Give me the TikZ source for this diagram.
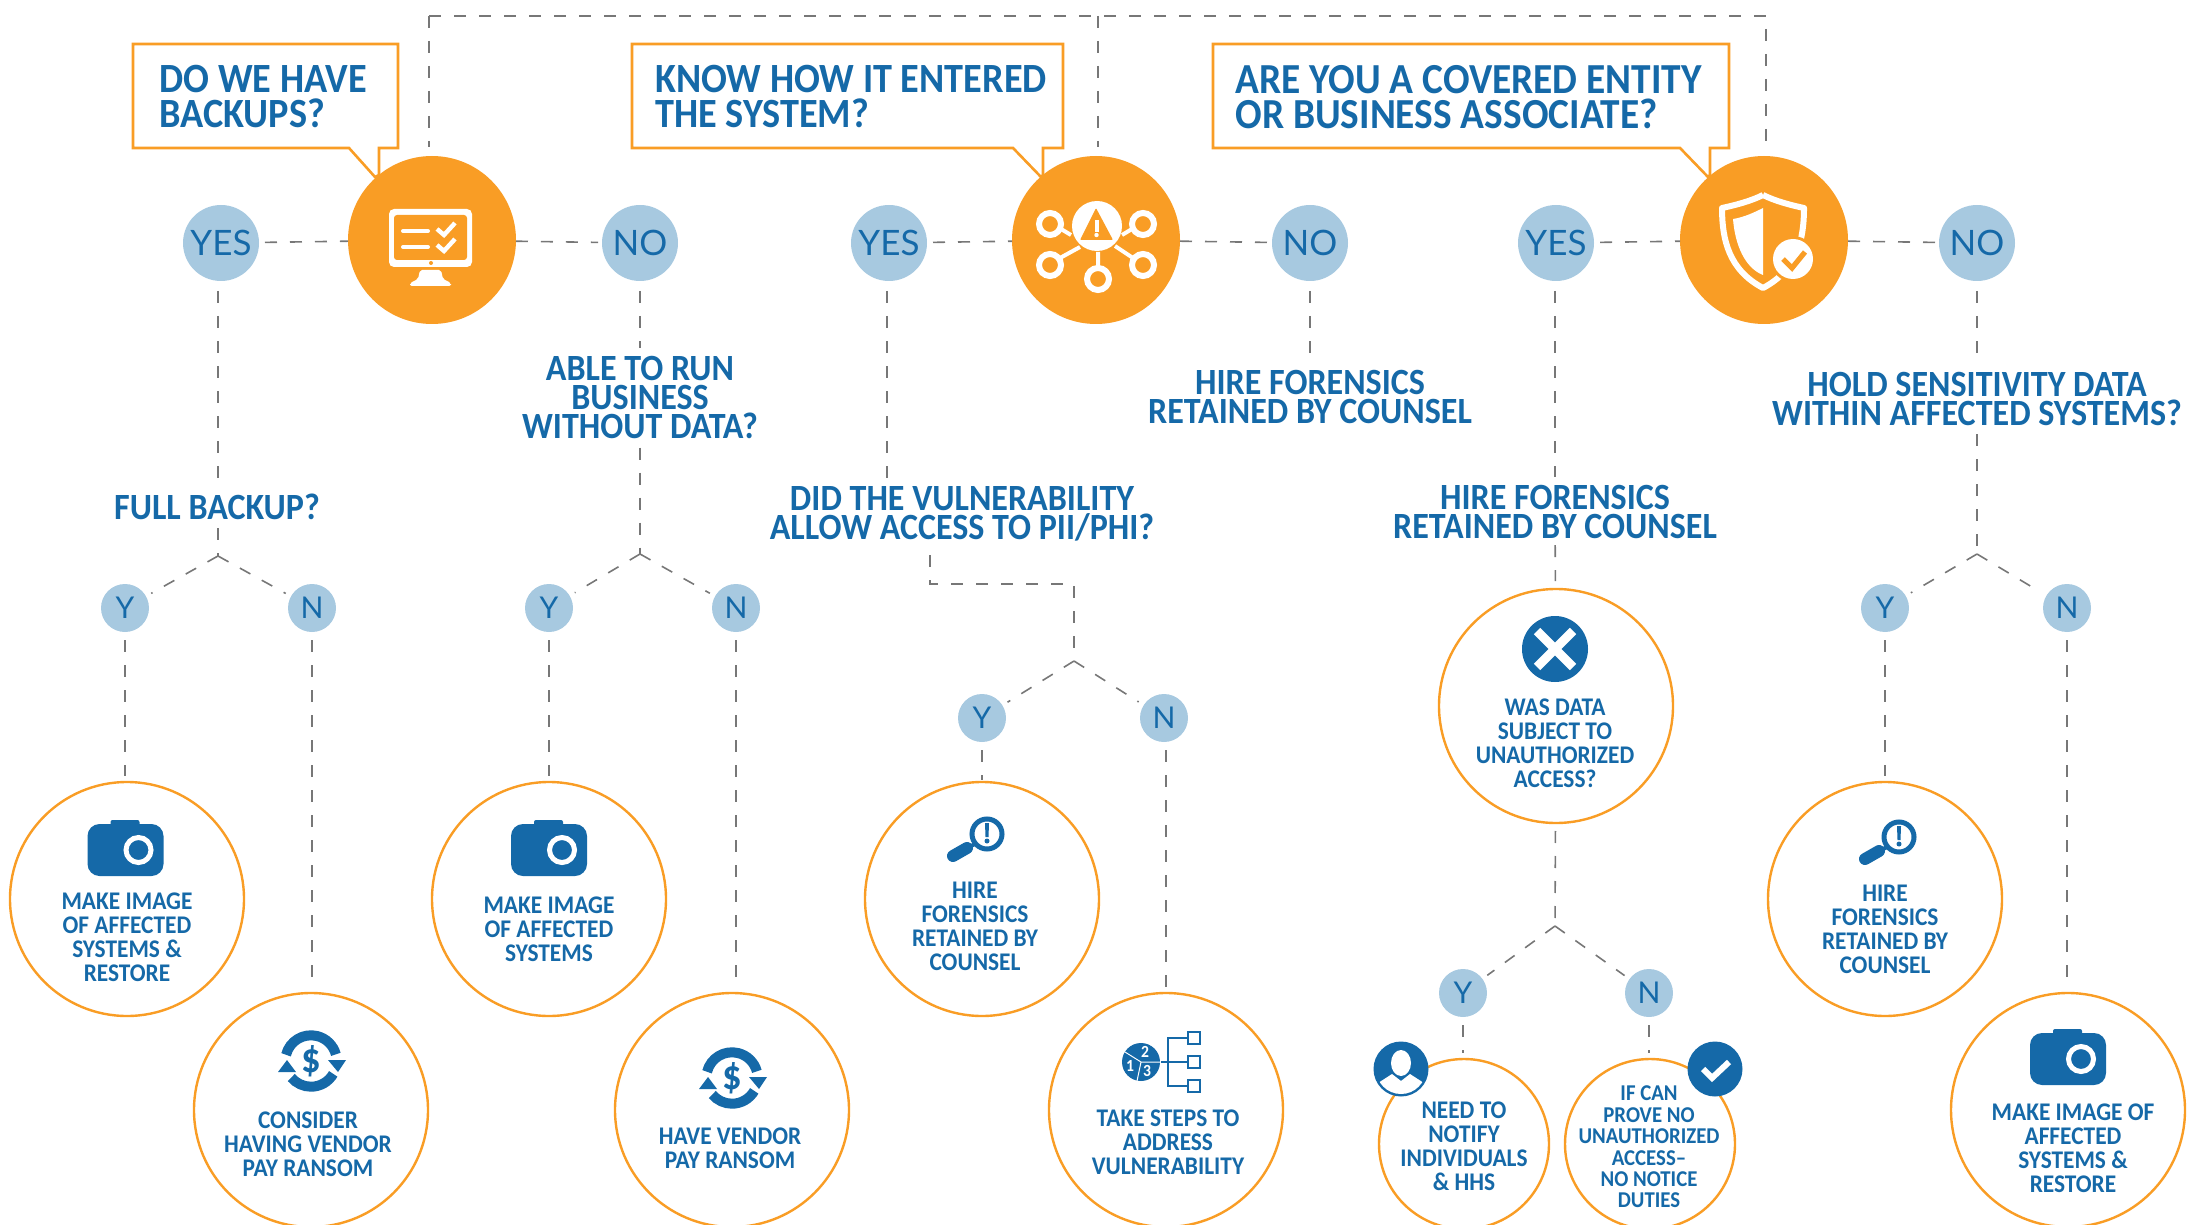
\documentclass[tikz,border=0pt]{standalone}
\usepackage{fontspec}
\setmainfont{Carlito}[FakeStretch=0.92]
\newfontfamily\plainfont{Lato}
\usetikzlibrary{calc}
\definecolor{orangemain}{HTML}{F99D25}
\definecolor{bluemain}{HTML}{1569A8}
\definecolor{bluelight}{HTML}{A7C9E0}
\definecolor{linegray}{HTML}{777777}

\newcommand{\iconcamera}[1]{\begin{scope}[shift={(#1)}]
  \fill[bluemain,rounded corners=6pt] (-38,-26) rectangle (38,26);
  \fill[bluemain,rounded corners=1pt] (-15,-30) rectangle (14,-20);
  \draw[white,line width=2.5pt,fill=bluemain] (13,0) circle (12.5);
\end{scope}}
\newcommand{\iconglass}[1]{\begin{scope}[shift={(#1)}]
  \draw[bluemain,line width=2.5pt] (13,-7) circle (15);
  \draw[bluemain,line width=6pt,line cap=round] (-21,15) -- (-7,7);
  \draw[bluemain,line width=2pt] (-7,7) -- (3,2);
  \fill[bluemain] (11,-18) -- (15,-18) -- (14.5,-4) -- (11.5,-4) -- cycle;
  \fill[bluemain] (13,0) circle (2.5);
\end{scope}}
\newcommand{\icondollar}[1]{\begin{scope}[shift={(#1)}]
  \draw[bluemain,line width=5pt] (194:25.7) arc (194:345:25.7);
  \draw[bluemain,line width=5pt] (30:25.7) arc (30:140:25.7);
  \fill[bluemain] (17,-1) -- (35,-1) -- (27,11) -- cycle;
  \fill[bluemain] (-33,11) -- (-15,11) -- (-24,-1) -- cycle;
  \node[inner sep=0pt,text=bluemain,font=\fontsize{21}{21}\selectfont\bfseries] at (0,0) {\$};
\end{scope}}
\newcommand{\iconsteps}[1]{\begin{scope}[shift={(#1)}]
  \fill[bluemain] (0,0) circle (19);
  \draw[white,line width=0.5pt] (0,0) -- (19,0) (0,0) -- (-16,-10) (0,0) -- (-4,19);
  \node[inner sep=0pt,text=white,font=\fontsize{8.5}{8.5}\selectfont\bfseries] at (4,-10) {2};
  \node[inner sep=0pt,text=white,font=\fontsize{8.5}{8.5}\selectfont\bfseries] at (-11,4) {1};
  \node[inner sep=0pt,text=white,font=\fontsize{8.5}{8.5}\selectfont\bfseries] at (6,9) {3};
  \draw[bluemain,line width=1.3pt] (20,0) -- (46,0) (27,-24) -- (46,-24) (27,24) -- (46,24) (27,-25) -- (27,25);
  \draw[bluemain,line width=0.9pt,fill=white] (47,-30) rectangle (59,-18);
  \draw[bluemain,line width=0.9pt,fill=white] (47,-6) rectangle (59,6);
  \draw[bluemain,line width=0.9pt,fill=white] (47,18) rectangle (59,30);
\end{scope}}

\begin{document}
\begin{tikzpicture}[x=0.5pt,y=-0.5pt]
\tikzstyle{mainball}=[circle,fill=orangemain,minimum size=84pt,inner sep=0pt,outer sep=0pt]
\tikzstyle{answer}=[circle,fill=bluelight,text=bluemain,minimum size=38pt,inner sep=0pt,outer sep=0pt,font=\plainfont\fontsize{17.5}{17.5}\selectfont]
\tikzstyle{short}=[circle,fill=bluelight,text=bluemain,minimum size=24pt,inner sep=0pt,outer sep=0pt,font=\plainfont\fontsize{15}{15}\selectfont]
\tikzstyle{outcome}=[circle,draw=orangemain,line width=1.2pt,fill=white,minimum size=117pt,inner sep=0pt,outer sep=0pt]
\tikzstyle{outsmall}=[outcome,minimum size=85pt]
\tikzstyle{callout}=[draw=orangemain,line width=1.3pt,fill=white]
\tikzstyle{dashline}=[draw=linegray,line width=0.8pt,dash pattern=on 6pt off 6.5pt]
\tikzstyle{asktext}=[text=bluemain,align=left,anchor=west,inner sep=0pt,font=\fontsize{20.8}{17.5}\selectfont\bfseries]
\tikzstyle{question}=[text=bluemain,align=center,inner sep=0pt,font=\fontsize{18.5}{14.5}\selectfont\bfseries]
\tikzstyle{inside}=[text=bluemain,align=center,inner sep=0pt,font=\fontsize{12.7}{12}\selectfont\bfseries]
\tikzstyle{insidetight}=[text=bluemain,align=center,inner sep=0pt,font=\fontsize{11.3}{10.7}\selectfont\bfseries]
\useasboundingbox (0,0) rectangle (2206,1225);
\clip (0,0) rectangle (2206,1225);

\draw[callout] (133,44) -- (398,44) -- (398,148) -- (379,148) -- (379,175) -- (375,177) -- (349,148) -- (133,148) -- cycle;
\draw[callout] (632,44) -- (1063,44) -- (1063,148) -- (1043,148) -- (1043,175) -- (1041,177) -- (1013,148) -- (632,148) -- cycle;
\draw[callout] (1213,44) -- (1729,44) -- (1729,148) -- (1710,148) -- (1710,175) -- (1708,177) -- (1680,148) -- (1213,148) -- cycle;
\node[asktext] (askA) at (159,97) {DO WE HAVE\\BACKUPS?};
\node[asktext] (askB) at (655,97) {KNOW HOW IT ENTERED\\THE SYSTEM?};
\node[asktext,font=\fontsize{21.4}{17.5}\selectfont\bfseries] (askC) at (1235,97) {ARE YOU A COVERED ENTITY\\OR BUSINESS ASSOCIATE?};

\node[mainball] (mainA) at (432,240) {};
\node[mainball] (mainB) at (1096,240) {};
\node[mainball] (mainC) at (1764,240) {};

\node[answer] (yesA) at (221,243) {YES};
\node[answer] (noA) at (640,243) {NO};
\node[answer] (yesB) at (889,243) {YES};
\node[answer] (noB) at (1310,243) {NO};
\node[answer] (yesC) at (1556,243) {YES};
\node[answer] (noC) at (1977,243) {NO};

\node[question] (askFull) at (217,507) {FULL BACKUP?};
\node[question] (askRun) at (640,398) {ABLE TO RUN\\BUSINESS\\WITHOUT DATA?};
\node[question] (askPii) at (962,514) {DID THE VULNERABILITY\\ALLOW ACCESS TO PII/PHI?};
\node[question] (askHire) at (1310,397) {HIRE FORENSICS\\RETAINED BY COUNSEL};
\node[question] (askCounsel) at (1555,512) {HIRE FORENSICS\\RETAINED BY COUNSEL};
\node[question] (askHold) at (1977,399) {HOLD SENSITIVITY DATA\\WITHIN AFFECTED SYSTEMS?};

\node[short] (yA) at (125,608) {Y};
\node[short] (nA) at (312,608) {N};
\node[short] (yB) at (549,608) {Y};
\node[short] (nB) at (736,608) {N};
\node[short] (yC) at (982,718) {Y};
\node[short] (nC) at (1164,718) {N};
\node[short] (yD) at (1463,993) {Y};
\node[short] (nD) at (1649,993) {N};
\node[short] (yE) at (1885,608) {Y};
\node[short] (nE) at (2067,608) {N};

\node[outcome] (imgA) at (127,899) {};
\node[outcome] (payA) at (311,1110) {};
\node[outcome] (imgB) at (549,899) {};
\node[outcome] (payB) at (732,1110) {};
\node[outcome] (hireC) at (982,899) {};
\node[outcome] (stepC) at (1166,1110) {};
\node[outcome] (wasD) at (1556,706) {};
\node[outsmall] (needD) at (1464,1144) {};
\node[outsmall] (ifD) at (1650,1144) {};
\node[outcome] (hireE) at (1885,899) {};
\node[outcome] (imgE) at (2068,1110) {};

\node[inside] (imgAtext) at (127,937) {MAKE IMAGE\\OF AFFECTED\\SYSTEMS \&\\RESTORE};
\node[inside] (payAtext) at (308,1144) {CONSIDER\\HAVING VENDOR\\PAY RANSOM};
\node[inside] (imgBtext) at (549,929) {MAKE IMAGE\\OF AFFECTED\\SYSTEMS};
\node[inside] (payBtext) at (730,1148) {HAVE VENDOR\\PAY RANSOM};
\node[inside] (hireCtext) at (975,926) {HIRE\\FORENSICS\\RETAINED BY\\COUNSEL};
\node[inside] (stepCtext) at (1168,1142) {TAKE STEPS TO\\ADDRESS\\VULNERABILITY};
\node[inside] (wasDtext) at (1555,743) {WAS DATA\\SUBJECT TO\\UNAUTHORIZED\\ACCESS?};
\node[inside] (needDtext) at (1464,1146) {NEED TO\\NOTIFY\\INDIVIDUALS\\\& HHS};
\node[insidetight] (ifDtext) at (1649,1147) {IF CAN\\PROVE NO\\UNAUTHORIZED\\ACCESS--\\NO NOTICE\\DUTIES};
\node[inside] (hireEtext) at (1885,929) {HIRE\\FORENSICS\\RETAINED BY\\COUNSEL};
\node[inside] (imgEtext) at (2073,1148) {MAKE IMAGE OF\\AFFECTED\\SYSTEMS \&\\RESTORE};

\coordinate (topA) at (429,16);
\coordinate (topB) at (1098,16);
\coordinate (topC) at (1766,16);
\coordinate (forkA) at (218,556);
\coordinate (forkB) at (640,554);
\coordinate (forkC) at (1074,661);
\coordinate (bendC) at (930,549);
\coordinate (turnC) at (930,584);
\coordinate (overC) at (1074,584);
\coordinate (forkD) at (1555,926);
\coordinate (forkE) at (1977,554);

\draw[dashline,shorten >=4.5pt] (topA) -- (topC) -- (mainC.north -| topC);
\draw[dashline,shorten >=4.5pt] (topA) -- (mainA.north -| topA);
\draw[dashline,shorten >=4.5pt] (topB) -- (mainB.north -| topB);

\draw[dashline,shorten <=3pt] (yesA) -- (mainA);
\draw[dashline,shorten >=2pt] (mainA) -- (noA);
\draw[dashline,shorten <=3pt] (yesB) -- (mainB);
\draw[dashline,shorten >=2pt] (mainB) -- (noB);
\draw[dashline,shorten <=3pt] (yesC) -- (mainC);
\draw[dashline,shorten >=2pt] (mainC) -- (noC);

\draw[dashline,shorten <=5pt,shorten >=4pt] (yesA.south -| forkA) -- (askFull.north -| forkA);
\draw[dashline,shorten <=4pt] (askFull.south -| forkA) -- (forkA);
\draw[dashline,shorten >=3pt] (forkA) -- (yA);
\draw[dashline,shorten >=3pt] (forkA) -- (nA);
\draw[dashline,shorten <=5pt,shorten >=4pt] (noA) -- (askRun);
\draw[dashline,shorten <=4pt] (askRun) -- (forkB);
\draw[dashline,shorten >=3pt] (forkB) -- (yB);
\draw[dashline,shorten >=3pt] (forkB) -- (nB);
\draw[dashline,shorten <=5pt,shorten >=4pt] (yesB.south -| 887,0) -- (askPii.north -| 887,0);
\draw[dashline,shorten <=3pt] (bendC) -- (turnC) -- (overC) -- (forkC);
\draw[dashline,shorten >=3pt] (forkC) -- (yC);
\draw[dashline,shorten >=3pt] (forkC) -- (nC);
\draw[dashline,shorten <=5pt,shorten >=4pt] (noB) -- (askHire);
\draw[dashline,shorten <=5pt,shorten >=4pt] (yesC.south -| askCounsel) -- (askCounsel);
\draw[dashline,shorten <=3pt,shorten >=4pt] (askCounsel) -- (wasD);
\draw[dashline,shorten <=4pt] (wasD) -- (forkD);
\draw[dashline,shorten >=3pt] (forkD) -- (yD);
\draw[dashline,shorten >=3pt] (forkD) -- (nD);
\draw[dashline,shorten <=5pt,shorten >=4pt] (noC) -- (askHold);
\draw[dashline,shorten <=4pt] (askHold) -- (forkE);
\draw[dashline,shorten >=3pt] (forkE) -- (yE);
\draw[dashline,shorten >=3pt] (forkE) -- (nE);

\draw[dashline,shorten <=4pt,shorten >=3pt] (yA) -- (yA |- imgA.north);
\draw[dashline,shorten <=4pt,shorten >=3pt] (nA) -- (nA |- payA.north);
\draw[dashline,shorten <=4pt,shorten >=3pt] (yB) -- (imgB);
\draw[dashline,shorten <=4pt,shorten >=3pt] (nB) -- (nB |- payB.north);
\draw[dashline,shorten <=4pt,shorten >=1pt] (yC) -- (hireC);
\draw[dashline,shorten <=4pt,shorten >=3pt] (stepC.north |- nC.south) -- (stepC.north);
\draw[dashline,shorten <=4pt,shorten >=3pt] (yD) -- (yD |- needD.north);
\draw[dashline,shorten <=4pt,shorten >=3pt] (nD) -- (nD |- ifD.north);
\draw[dashline,shorten <=4pt,shorten >=3pt] (yE) -- (hireE);
\draw[dashline,shorten <=4pt,shorten >=3pt] (nE) -- (nE |- imgE.north);

\fill[white,rounded corners=2.5pt] (389,209) rectangle (472,267);
\fill[orangemain,rounded corners=1.5pt] (394,215) rectangle (467,260);
\fill[orangemain] (431,263) circle (2);
\fill[white,rounded corners=1pt] (420,270) -- (441,270) -- (443,279) -- (451,283) -- (451,286) -- (410,286) -- (410,283) -- (418,279) -- cycle;
\draw[white,line width=2pt,line cap=round] (403,231) -- (428,231) (403,247) -- (428,247);
\draw[white,line width=2.2pt] (437,229) -- (444,235) -- (455,223) (437,245) -- (444,251) -- (455,239);

\fill[white] (1097,226) circle (25);
\fill[orangemain,rounded corners=0.5pt] (1096,208) -- (1113,240) -- (1080,240) -- cycle;
\fill[white] (1094.5,220) rectangle (1098.5,232);
\fill[white] (1096.5,235) circle (2.2);
\draw[white,line width=3pt] (1050,224) circle (11) (1143,224) circle (11) (1050,265) circle (11) (1143,265) circle (11) (1098,279) circle (11);
\draw[white,line width=2pt] (1061,229) -- (1071,235) (1132,229) -- (1122,235) (1060,258) -- (1080,247) (1133,258) -- (1115,246) (1098,268) -- (1098,252);

\draw[white,line width=3pt,line join=round] (1763,195) .. controls (1775,201) and (1790,205) .. (1804,208) .. controls (1804,240) and (1797,270) .. (1763,288) .. controls (1729,270) and (1722,240) .. (1722,208) .. controls (1736,205) and (1751,201) .. (1763,195);
\fill[white] (1763,208) -- (1763,275) .. controls (1745,268) and (1735,245) .. (1733,219) .. controls (1745,217) and (1755,212) .. (1763,208) -- cycle;
\fill[orangemain] (1793,259) circle (23);
\fill[white] (1793,259) circle (20);
\draw[orangemain,line width=2.6pt] (1783,259) -- (1792,268) -- (1805,252);

\iconcamera{125.5,850}
\iconcamera{549,850}
\iconcamera{2068,1059}
\iconglass{974,841}
\iconglass{1886,844}
\icondollar{311,1061}
\icondollar{732,1078}
\iconsteps{1141,1062}

\fill[bluemain] (1555,649) circle (33);
\draw[white,line width=4.5pt] (1537,631) -- (1573,667) (1537,667) -- (1573,631);

\fill[bluemain] (1401,1069) circle (27.5);
\begin{scope}
\clip (1401,1069) circle (25);
\fill[white] (1375,1100) -- (1375,1085) -- (1392,1074) -- (1401,1081) -- (1410,1074) -- (1427,1085) -- (1427,1100) -- cycle;
\end{scope}
\fill[white] (1401,1063) ellipse (10 and 13);
\fill[bluemain] (1715,1069) circle (27.5);
\draw[white,line width=3pt] (1703,1069) -- (1712,1078) -- (1729,1062);
\end{tikzpicture}
\end{document}
